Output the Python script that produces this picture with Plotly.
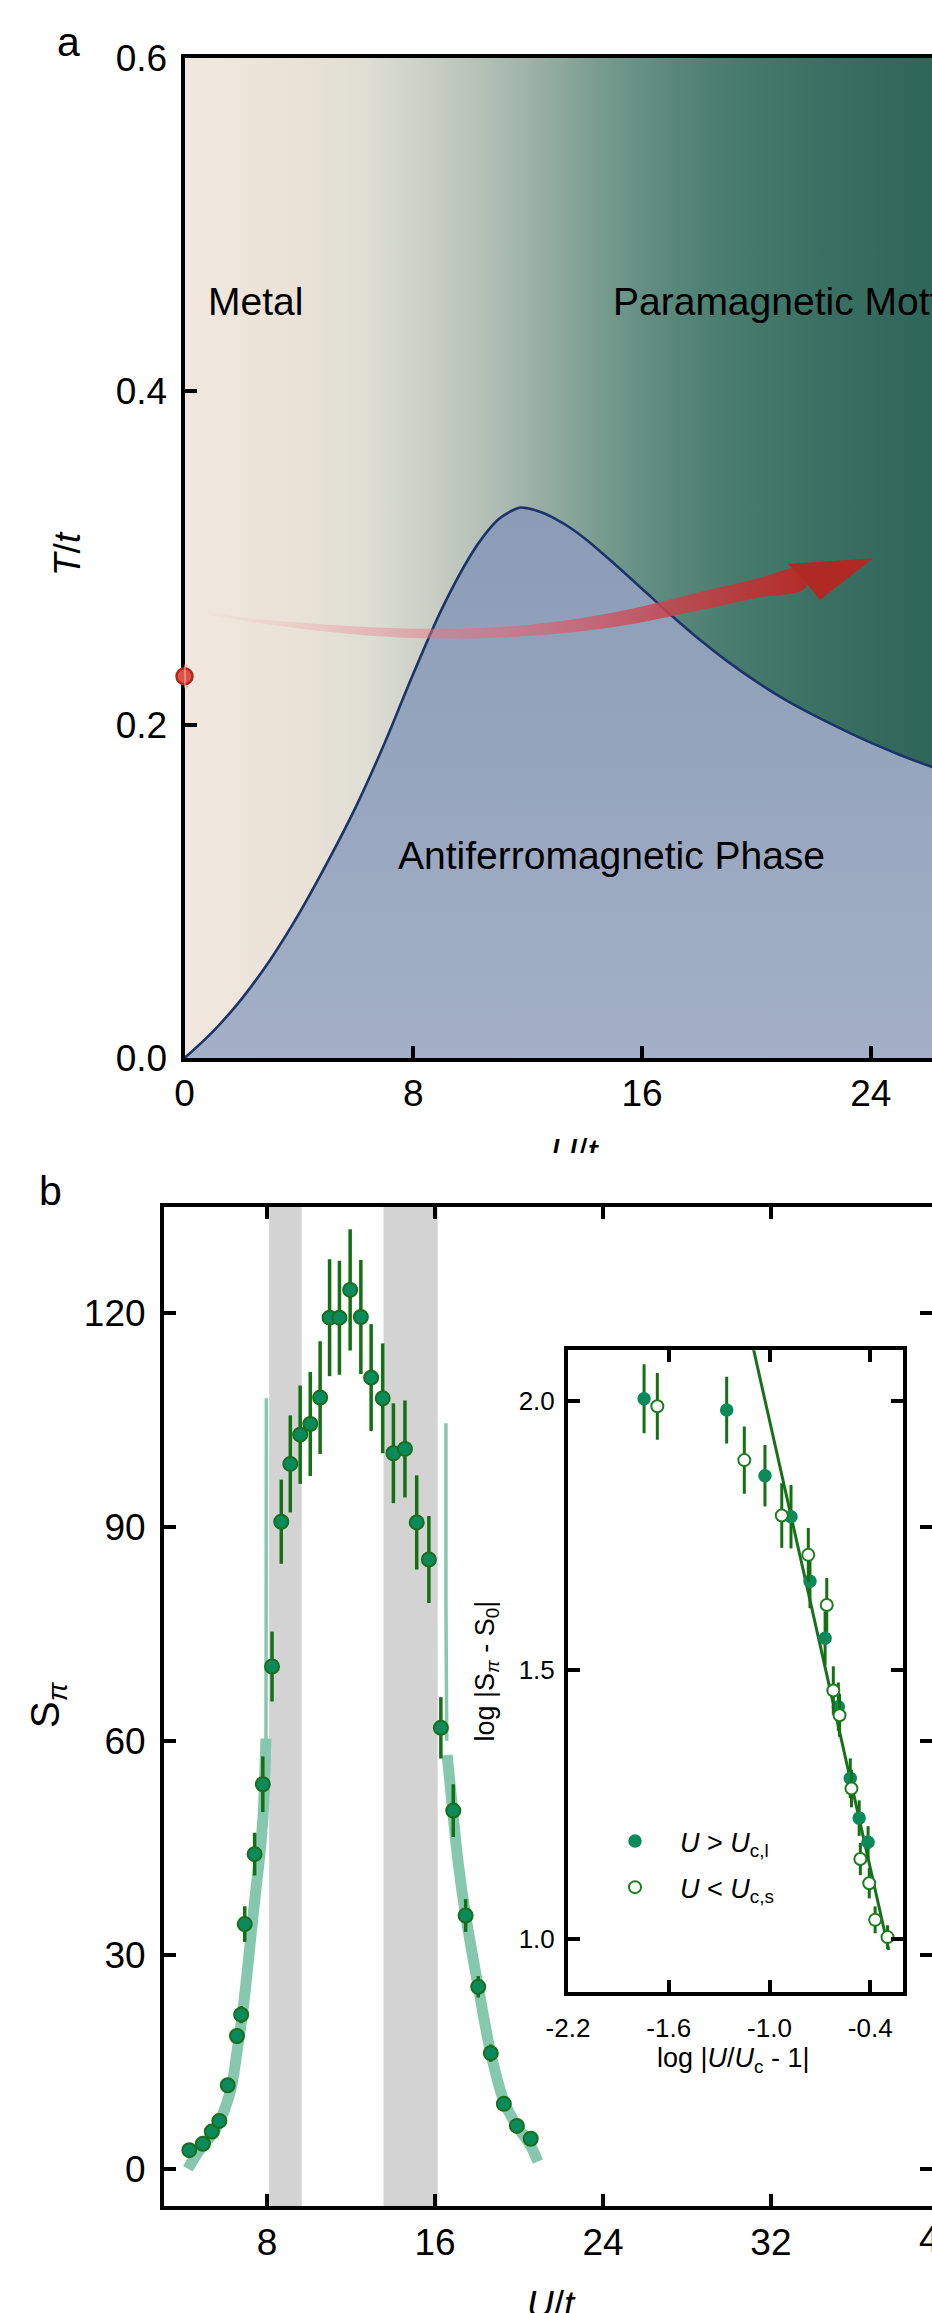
import plotly.graph_objects as go

W, H = 932, 2313
FONT = "Liberation Sans, Arial, Helvetica, sans-serif"


def px_x(px):
    return px / W


def px_y(py):
    return 1 - py / H


# ---------------- Panel a : phase diagram ----------------
a_u_range = [0.0, 26.14]
a_t_range = [0.0, 0.6]
a_xticks = [0, 8, 16, 24]
a_yticks = [0.0, 0.2, 0.4, 0.6]

# background gradient stops (U position, colour)
grad_u = [0, 4, 6.4, 8.7, 11, 12.5, 14.9, 17.2, 19.5, 21.9, 24.8, 26.14]
grad_c = ["#F0E8DE", "#EAE2D7", "#DEDED3", "#C8CEC4", "#ACBCB2", "#97AEA4",
          "#73988C", "#58877A", "#467A6C", "#3C7264", "#32695C", "#2F665A"]

# antiferromagnetic phase boundary T_N(U)
af_u = [0, 1, 2, 3, 4, 5, 6, 7, 8, 9, 10, 10.5, 11, 11.5, 11.75, 12, 12.5, 13,
        13.5, 14, 15, 16, 17, 18, 19, 20, 21, 22, 23, 24, 25, 26, 27.5]
af_t = [0, 0.016, 0.0355, 0.059, 0.0865, 0.1175, 0.151, 0.189, 0.2305, 0.2695,
        0.3015, 0.314, 0.3235, 0.3288, 0.3303, 0.3298, 0.3273, 0.3232, 0.318,
        0.3117, 0.297, 0.2815, 0.266, 0.2512, 0.2378, 0.2258, 0.215, 0.2057,
        0.1972, 0.1892, 0.182, 0.1755, 0.1665]

# point on the T axis
crit_u = [0.0]
crit_t = [0.229]
crit_err = [0.0065]

# red arrow (centre line, half thickness in px) and head
arrow_u = [0.3, 2, 4, 6, 8, 10, 12, 14, 16, 18, 20, 21.7]
arrow_t = [0.2688, 0.2635, 0.2595, 0.2565, 0.2548, 0.2548, 0.2565, 0.2603,
           0.2662, 0.2740, 0.2818, 0.2880]
arrow_hw = [0.5, 1.5, 3.0, 4.0, 4.7, 5.1, 5.6, 6.6, 7.8, 9.0, 9.6, 10.0]
head_u = [21.11, 24.08, 22.22, 21.62, 21.11]
head_t = [0.2964, 0.2998, 0.2748, 0.2875, 0.2964]

# ---------------- Panel b : structure factor ----------------
b_u_range = [3.095, 39.67]
b_s_range = [-5.27, 134.82]
b_xticks = [8, 16, 24, 32]
b_yticks = [0, 30, 60, 90, 120]

u_vals = [4.3, 4.95, 5.37, 5.73, 6.13, 6.57, 6.77, 6.94, 7.41, 7.8, 8.24, 8.68,
          9.11, 9.58, 10.06, 10.53, 10.98, 11.45, 11.96, 12.47, 12.96, 13.51,
          14.02, 14.57, 15.13, 15.71, 16.28, 16.87, 17.46, 18.06, 18.66, 19.28,
          19.9, 20.56]
s_vals = [2.6, 3.5, 5.2, 6.7, 11.7, 18.6, 21.6, 34.3, 44.1, 53.9, 70.4, 90.7,
          98.8, 102.9, 104.4, 108.1, 119.3, 119.3, 123.2, 119.4, 110.9, 108.0,
          100.3, 100.9, 90.6, 85.4, 61.8, 50.2, 35.5, 25.5, 16.2, 9.1, 6.0, 4.2]
s_err = [0.8, 0.8, 0.9, 1.0, 1.0, 1.1, 1.2, 2.5, 3.0, 3.9, 4.9, 5.9, 6.8, 6.9,
         7.3, 7.9, 8.2, 8.0, 8.5, 8.0, 7.5, 7.7, 7.0, 6.8, 6.6, 6.1, 4.3, 3.7,
         2.3, 1.5, 1.2, 1.0, 0.9, 0.8]

# shaded transition windows
gray_lo = [8.1, 13.55]
gray_hi = [9.65, 16.13]

# fitted critical curves (light band)
band_l_u = [4.23, 4.83, 5.55, 6.26, 6.57, 6.84, 7.05, 7.24, 7.44, 7.65, 7.81, 7.89, 7.95]
band_l_s = [0.0, 2.8, 5.5, 10.9, 16.4, 21.9, 27.4, 32.8, 38.3, 43.8, 49.3, 54.8, 60.3]
band_l_top_u = [7.95, 7.96, 7.97]
band_l_top_s = [58.0, 80.0, 108.0]
band_r_u = [16.58, 16.85, 17.1, 17.46, 18.06, 18.66, 19.28, 19.9, 20.5, 20.9]
band_r_s = [58.0, 50.0, 43.0, 35.5, 25.5, 16.2, 9.5, 6.0, 3.5, 1.0]
band_r_top_u = [16.52, 16.52, 16.56]
band_r_top_s = [104.5, 80.0, 60.0]

# ---------------- Inset : critical scaling ----------------
in_x_range = [-2.2, -0.205]
in_y_range = [0.902, 2.094]
in_xticks = [-2.2, -1.6, -1.0, -0.4]
in_xlabels = ["-2.2", "-1.6", "-1.0", "-0.4"]
in_yticks = [1.0, 1.5, 2.0]

fill_x = [-1.747, -1.255, -1.027, -0.872, -0.759, -0.669, -0.590, -0.519, -0.466, -0.413]
fill_y = [2.004, 1.983, 1.861, 1.785, 1.665, 1.559, 1.432, 1.299, 1.225, 1.180]
fill_e = [0.064, 0.062, 0.057, 0.059, 0.05, 0.05, 0.045, 0.037, 0.033, 0.03]
open_x = [-1.668, -1.150, -0.927, -0.769, -0.659, -0.620, -0.583, -0.512, -0.459, -0.406, -0.371, -0.297]
open_y = [1.990, 1.890, 1.787, 1.714, 1.621, 1.462, 1.416, 1.280, 1.149, 1.104, 1.036, 1.004]
open_e = [0.062, 0.0625, 0.06, 0.05, 0.05, 0.045, 0.04, 0.035, 0.03, 0.028, 0.025, 0.022]
fit_x = [-1.096, -0.29]
fit_y = [2.097, 0.98]

# ---------------- colours ----------------
GREEN_FILL = "#0B8A5C"
GREEN_EDGE = "#1A6E1C"
GREEN_ERR = "#137013"
BAND = "#86C7B0"

fig = go.Figure()

# --- panel a traces ---
fig.add_trace(go.Scatter(
    x=[a_u_range[0], a_u_range[1], a_u_range[1], a_u_range[0], a_u_range[0]],
    y=[a_t_range[0], a_t_range[0], a_t_range[1], a_t_range[1], a_t_range[0]],
    mode="lines", line=dict(width=0), fill="toself",
    fillgradient=dict(type="horizontal",
                      colorscale=[[u / a_u_range[1], c] for u, c in zip(grad_u, grad_c)]),
    hoverinfo="skip", showlegend=False, xaxis="x", yaxis="y"))

fig.add_trace(go.Scatter(
    x=af_u + [af_u[-1], af_u[0]], y=af_t + [0, 0],
    mode="lines", line=dict(width=0), fill="toself",
    fillgradient=dict(type="vertical", colorscale=[[0, "#A3B0C7"], [1, "#8A9CB6"]]),
    hoverinfo="skip", showlegend=False, xaxis="x", yaxis="y"))

fig.add_trace(go.Scatter(
    x=af_u, y=af_t, mode="lines", line=dict(color="#1C3468", width=2.6, shape="spline"),
    hoverinfo="skip", showlegend=False, xaxis="x", yaxis="y"))

px_per_t = 1000.0 / (a_t_range[1] - a_t_range[0])
upper = [t + h / px_per_t for t, h in zip(arrow_t, arrow_hw)]
lower = [t - h / px_per_t for t, h in zip(arrow_t, arrow_hw)]
fig.add_trace(go.Scatter(
    x=arrow_u + arrow_u[::-1] + [arrow_u[0]], y=upper + lower[::-1] + [upper[0]],
    mode="lines", line=dict(width=0, shape="spline"), fill="toself",
    fillgradient=dict(type="horizontal", colorscale=[
        [0.0, "rgba(240,150,160,0.0)"], [0.25, "rgba(238,130,142,0.35)"],
        [0.5, "rgba(226,106,122,0.62)"], [0.75, "rgba(200,72,82,0.85)"],
        [1.0, "rgba(178,44,40,1.0)"]]),
    hoverinfo="skip", showlegend=False, xaxis="x", yaxis="y"))

fig.add_trace(go.Scatter(
    x=head_u, y=head_t, mode="lines", line=dict(width=0), fill="toself",
    fillcolor="#AF2A25", hoverinfo="skip", showlegend=False, xaxis="x", yaxis="y"))

# critical point on the axis (own layer so it sits above the axis line)
fig.add_trace(go.Scatter(
    x=crit_u, y=crit_t, mode="markers", cliponaxis=False,
    marker=dict(size=16, color="#DD5447", line=dict(color="#B3261E", width=2.5)),
    hoverinfo="skip", showlegend=False, xaxis="x6", yaxis="y6"))
fig.add_trace(go.Scatter(
    x=crit_u, y=crit_t, mode="markers", cliponaxis=False,
    marker=dict(size=1, color="rgba(0,0,0,0)"),
    error_y=dict(type="data", array=crit_err, color="#F8BBB2", thickness=2, width=3.5),
    hoverinfo="skip", showlegend=False, xaxis="x6", yaxis="y6"))

# clipped axis title of panel a (only its upper part is visible)
fig.add_trace(go.Scatter(
    x=[574], y=[1156], mode="text", text=["<i>U</i>/<i>t</i>"], cliponaxis=True,
    textposition="middle center", textfont=dict(size=37, family=FONT, color="black"),
    hoverinfo="skip", showlegend=False, xaxis="x5", yaxis="y5"))

# --- panel b traces ---
for xs, ys, wd in [(band_l_u, band_l_s, 11), (band_l_top_u, band_l_top_s, 3.5),
                   (band_r_u, band_r_s, 11), (band_r_top_u, band_r_top_s, 3.5)]:
    fig.add_trace(go.Scatter(
        x=xs, y=ys, mode="lines", line=dict(color=BAND, width=wd, shape="spline"),
        hoverinfo="skip", showlegend=False, xaxis="x3", yaxis="y3"))

fig.add_trace(go.Scatter(
    x=u_vals, y=s_vals, mode="markers",
    marker=dict(size=14, color=GREEN_FILL, line=dict(color=GREEN_EDGE, width=2)),
    error_y=dict(type="data", array=s_err, color=GREEN_ERR, thickness=3.5, width=0),
    hoverinfo="skip", showlegend=False, xaxis="x3", yaxis="y3"))

# --- inset traces ---
fig.add_trace(go.Scatter(
    x=fit_x, y=fit_y, mode="lines", line=dict(color="#17701A", width=3),
    hoverinfo="skip", showlegend=False, xaxis="x4", yaxis="y4"))
fig.add_trace(go.Scatter(
    x=fill_x, y=fill_y, mode="markers", name="<i>U</i> &gt; <i>U</i><sub>c,l</sub>",
    legendgroup="g1",
    marker=dict(size=12, color=GREEN_FILL, line=dict(color=GREEN_FILL, width=1.5)),
    error_y=dict(type="data", array=fill_e, color=GREEN_ERR, thickness=3, width=0),
    hoverinfo="skip", showlegend=True, xaxis="x4", yaxis="y4"))
fig.add_trace(go.Scatter(
    x=open_x, y=open_y, mode="markers", name="<i>U</i> &lt; <i>U</i><sub>c,s</sub>",
    legendgroup="g2",
    marker=dict(size=12, color="white", line=dict(color="#1E7E1E", width=2)),
    error_y=dict(type="data", array=open_e, color=GREEN_ERR, thickness=3, width=0),
    hoverinfo="skip", showlegend=True, xaxis="x4", yaxis="y4"))

# ---------------- layout ----------------
tick_common = dict(ticks="inside", tickwidth=4, tickcolor="black", showline=True,
                   linewidth=4, linecolor="black", showgrid=False, zeroline=False,
                   automargin=False)

shapes = []
for lo, hi in zip(gray_lo, gray_hi):
    shapes.append(dict(type="rect", xref="x3", yref="y3 domain", x0=lo, x1=hi, y0=0, y1=1,
                       fillcolor="#D3D3D3", line=dict(width=0), layer="below"))

ann = []


def text(x, y, s, size, xref="paper", yref="paper", xanchor="center", yanchor="middle", angle=0):
    ann.append(dict(x=x, y=y, xref=xref, yref=yref, text=s, showarrow=False,
                    xanchor=xanchor, yanchor=yanchor, textangle=angle,
                    font=dict(size=size, family=FONT, color="black")))


text(px_x(68.7), px_y(42), "a", 41)
text(px_x(50), px_y(1191), "b", 41)
text(0.75, 0.454, "Metal", 39, "x", "y", xanchor="left")
text(14.9, 0.454, "Paramagnetic Mott Insulator", 39, "x", "y", xanchor="left")
text(7.4, 0.1215, "Antiferromagnetic Phase", 39, "x", "y", xanchor="left")
text(px_x(67), px_y(554), "<i>T</i>/<i>t</i>", 37, angle=-90)
text(px_x(48), px_y(1705), "S<sub><i>π</i></sub>", 40, angle=-90)
text(px_x(551.5), px_y(2304.6), "<i>U</i>/<i>t</i>", 37)
text(px_x(939), px_y(2239), "40", 37)
text(px_x(486), px_y(1671.5), "log |S<sub><i>π</i></sub> - S<sub>0</sub>|", 27, angle=-90)
text(px_x(733.5), px_y(2060), "log |<i>U</i>/<i>U</i><sub>c</sub> - 1|", 27)

a_dom_x = [px_x(184.5), 1.0]
a_dom_y = [px_y(1058), px_y(58)]
hidden = dict(visible=False, automargin=False, showgrid=False, zeroline=False)

fig.update_layout(
    width=W, height=H, margin=dict(l=0, r=0, t=0, b=0, pad=0, autoexpand=False),
    paper_bgcolor="white", plot_bgcolor="rgba(0,0,0,0)",
    font=dict(family=FONT, color="black"),
    showlegend=True,
    legend=dict(x=px_x(590), y=px_y(1817), xanchor="left", yanchor="top",
                bgcolor="rgba(0,0,0,0)", font=dict(size=27, family=FONT, color="black"),
                itemwidth=80, tracegroupgap=8),
    xaxis=dict(domain=a_dom_x, range=a_u_range, anchor="y", tickvals=a_xticks,
               ticklen=12, mirror=True, tickfont=dict(size=37), **tick_common),
    yaxis=dict(domain=a_dom_y, range=a_t_range, anchor="x", tickvals=a_yticks,
               tickformat=".1f", ticklen=12, tickfont=dict(size=37),
               ticklabelstandoff=6, **tick_common),
    xaxis3=dict(domain=[px_x(164), 1.0], range=b_u_range, anchor="y3", tickvals=b_xticks,
                ticklen=12, mirror="ticks", tickfont=dict(size=37), **tick_common),
    yaxis3=dict(domain=[px_y(2206.3), px_y(1207)], range=b_s_range, anchor="x3",
                tickvals=b_yticks, ticklen=12, mirror="ticks", tickfont=dict(size=37),
                ticklabelstandoff=7, **tick_common),
    xaxis4=dict(domain=[px_x(568), px_x(903)], range=in_x_range, anchor="y4",
                tickvals=in_xticks, ticktext=in_xlabels, ticklen=12, mirror="ticks",
                tickfont=dict(size=26), ticklabelstandoff=10, **tick_common),
    yaxis4=dict(domain=[px_y(1992), px_y(1350.3)], range=in_y_range, anchor="x4",
                tickvals=in_yticks, tickformat=".1f", ticklen=12, mirror="ticks",
                tickfont=dict(size=26), ticklabelstandoff=4, **tick_common),
    xaxis5=dict(domain=[0, 1], range=[0, W], anchor="y5", **hidden),
    yaxis5=dict(domain=[px_y(1153), px_y(1080)], range=[1153, 1080], anchor="x5", **hidden),
    xaxis6=dict(domain=a_dom_x, range=a_u_range, anchor="y6", **hidden),
    yaxis6=dict(domain=a_dom_y, range=a_t_range, anchor="x6", **hidden),
    shapes=shapes, annotations=ann,
)

fig.write_html("out.html")
